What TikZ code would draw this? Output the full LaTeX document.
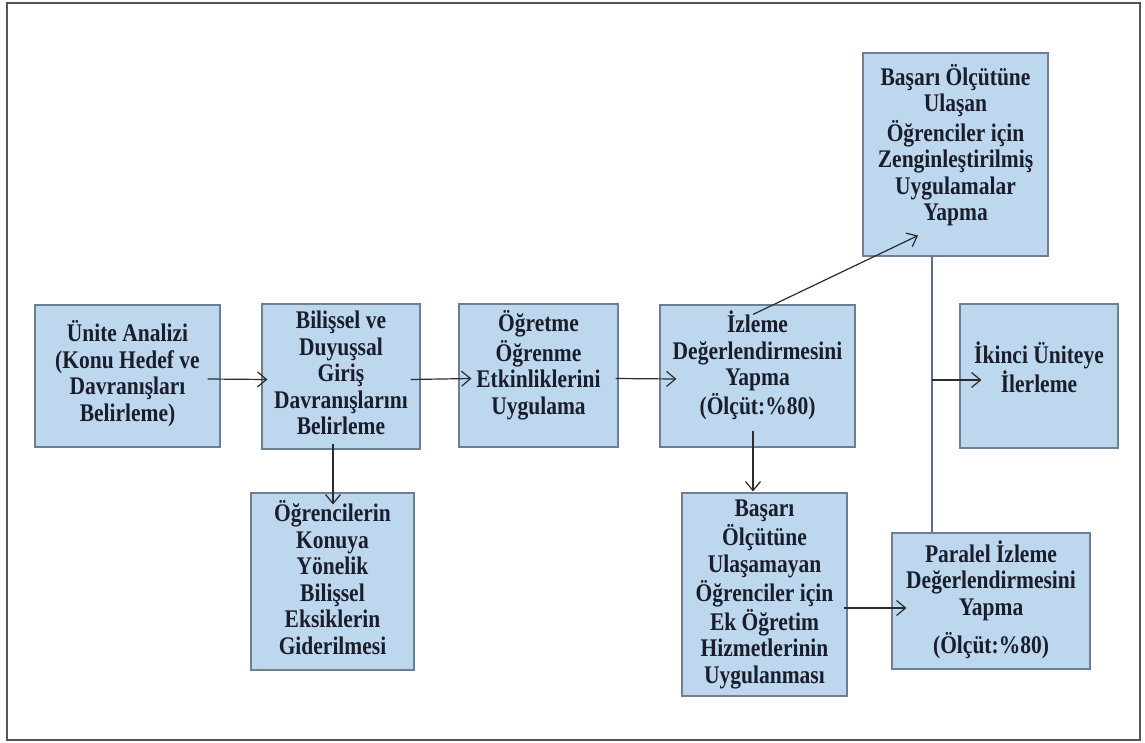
\documentclass[tikz,border=0pt]{standalone}
\usepackage{fontspec}
\setmainfont{Liberation Serif}
\usetikzlibrary{arrows.meta}
\definecolor{boxfill}{HTML}{BDD7EE}
\definecolor{boxline}{HTML}{6E7F93}
\definecolor{txtc}{HTML}{1A1E2C}
\definecolor{linec}{HTML}{2B2B2B}
\definecolor{vline}{HTML}{5B7088}
\definecolor{framec}{HTML}{555555}
% centred stack of lines, set slightly taller than wide
\newcommand{\stagelines}[1]{\scalebox{1}[1.18]{\begin{tabular}{@{}c@{}}#1\end{tabular}}}
\tikzset{
  stagebox/.style={draw=boxline, fill=boxfill, line width=1.1pt, inner sep=0pt, rectangle},
  stagetext/.style={font=\fontsize{21.5}{22.5}\selectfont\bfseries, text=txtc, inner sep=0pt},
  flow/.style={draw=linec, line width=1.2pt, -{Straight Barb[length=9pt,width=15pt]}},
}
\begin{document}
\begin{tikzpicture}[x=1pt, y=-1pt]
\useasboundingbox (0,0) rectangle (1145,742);
\fill[white] (0,0) rectangle (1145,742);
\draw[framec, line width=1.5pt] (7,3) rectangle (1140,740);

% boxes
\node[stagebox, minimum width=185pt, minimum height=142pt] (b1) at (127.5,376) {};
\node[stagebox, minimum width=158pt, minimum height=145pt] (b2) at (341,376.5) {};
\node[stagebox, minimum width=159pt, minimum height=143pt] (b3) at (538.5,375.5) {};
\node[stagebox, minimum width=195pt, minimum height=142pt] (b4) at (757.5,376) {};
\node[stagebox, minimum width=185pt, minimum height=203pt] (b5) at (955.5,154.5) {};
\node[stagebox, minimum width=158pt, minimum height=144pt] (b6) at (1039,376) {};
\node[stagebox, minimum width=163pt, minimum height=177pt] (b7) at (332.5,581.5) {};
\node[stagebox, minimum width=165pt, minimum height=203pt] (b8) at (764.5,594.5) {};
\node[stagebox, minimum width=198pt, minimum height=136pt] (b9) at (991,601) {};

% texts (yshift > 0 raises the text inside its box)
\node[stagetext] (t1) at ([yshift=1pt]b1.center) {\stagelines{Ünite Analizi\\(Konu Hedef ve\\Davranışları\\Belirleme)}};
\node[stagetext] (t2) at ([yshift=0pt]b2.center) {\stagelines{Bilişsel ve\\Duyuşsal\\Giriş\\Davranışlarını\\Belirleme}};
\node[stagetext] (t3) at ([yshift=9pt]b3.center) {\stagelines{Öğretme\\Öğrenme\\Etkinliklerini\\Uygulama}};
\node[stagetext] (t4) at ([yshift=9pt]b4.center) {\stagelines{İzleme\\Değerlendirmesini\\Yapma\\(Ölçüt:\%80)}};
\node[stagetext] (t5) at ([yshift=8pt]b5.center) {\stagelines{Başarı Ölçütüne\\Ulaşan\\Öğrenciler için\\Zenginleştirilmiş\\Uygulamalar\\Yapma}};
\node[stagetext] (t6) at ([yshift=5pt]b6.center) {\stagelines{İkinci Üniteye\\İlerleme}};
\node[stagetext] (t7) at ([yshift=0pt]b7.center) {\stagelines{Öğrencilerin\\Konuya\\Yönelik\\Bilişsel\\Eksiklerin\\Giderilmesi}};
\node[stagetext] (t8) at ([yshift=0pt]b8.center) {\stagelines{Başarı\\Ölçütüne\\Ulaşamayan\\Öğrenciler için\\Ek Öğretim\\Hizmetlerinin\\Uygulanması}};
\node[stagetext] (t9) at ([yshift=0pt]b9.center) {\stagelines{Paralel İzleme\\Değerlendirmesini\\Yapma\\[8pt](Ölçüt:\%80)}};

% connectors
\draw[flow] ([shift={(-13,3)}]b1.east) -- ([shift={(6,3)}]b2.west);
\draw[flow] ([shift={(-10,3)}]b2.east) -- ([shift={(13,3)}]b3.west);
\draw[flow] ([shift={(-3,3)}]b3.east) -- ([shift={(17,3)}]b4.west);
\draw[flow] ([shift={(-4.5,10)}]b4.north) -- ([shift={(-37.5,-21)}]b5.south);
\draw[flow] ([shift={(-4.5,-17)}]b4.south) -- ([shift={(-11.5,-1)}]b8.north);
\draw[flow] ([shift={(-8,-6)}]b2.south) -- ([shift={(0.5,12)}]b7.north);
\draw[flow] ([shift={(-4,13.5)}]b8.east) -- ([shift={(15,7)}]b9.west);

% line joining the two follow-up paths
\draw[vline, line width=1.3pt] ([xshift=-23.5]b5.south) -- ([xshift=-59]b9.north);
\coordinate (j) at (932,380);
\draw[flow] (j) -- ([shift={(22,4)}]b6.west);
\end{tikzpicture}
\end{document}
